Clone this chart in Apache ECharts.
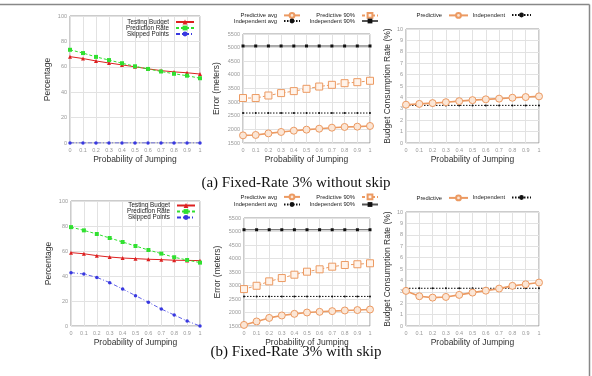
<!DOCTYPE html>
<html><head><meta charset="utf-8">
<script src="https://cdn.jsdelivr.net/npm/echarts@6/dist/echarts.min.js"></script>
<style>html,body{margin:0;padding:0;background:#fff}#c{width:592px;height:376px}</style>
</head><body><div id="c"></div>
<script>
const xCats = ['0','0.1','0.2','0.3','0.4','0.5','0.6','0.7','0.8','0.9','1'];
// (a) without skip
const aTestingBudget = [68, 66.5, 64.6, 63, 61.5, 60, 58.4, 57, 56, 55.3, 54.3];
const aPredictionRate = [73.4, 70.8, 67.8, 65.3, 62.8, 60.4, 58.3, 56.3, 54.5, 53, 51];
const aSkippedPoints = [0,0,0,0,0,0,0,0,0,0,0];
const aPredAvg = [1780, 1795, 1853, 1905, 1952, 1990, 2025, 2062, 2088, 2100, 2125];
const aPred90 = [3150, 3150, 3243, 3331, 3404, 3488, 3572, 3635, 3695, 3732, 3783];
const aIndAvg = [2600,2600,2600,2600,2600,2600,2600,2600,2600,2600,2600];
const aInd90 = [5060,5060,5060,5060,5060,5060,5060,5060,5060,5060,5060];
const aBudgetPred = [3.36, 3.43, 3.5, 3.58, 3.67, 3.76, 3.83, 3.89, 3.97, 4.03, 4.09];
const aBudgetInd = [3.3,3.3,3.3,3.3,3.3,3.3,3.3,3.3,3.3,3.3,3.3];
// (b) with skip
const bTestingBudget = [58.7, 57.8, 56.3, 55.2, 54.4, 53.9, 53.4, 53.1, 52.6, 52.5, 52.3];
const bPredictionRate = [79.1, 76.5, 73.6, 70.4, 67.2, 64, 60.8, 57.9, 55, 52.8, 50.7];
const bSkippedPoints = [42.7, 41.6, 38.9, 34.7, 29.6, 24.3, 19, 13.6, 8.8, 4, 0];
const bPredAvg = [1540, 1668, 1800, 1890, 1950, 2000, 2025, 2050, 2075, 2090, 2110];
const bPred90 = [2867, 2990, 3153, 3276, 3400, 3511, 3600, 3697, 3760, 3787, 3823];
const bIndAvg = [2595,2595,2595,2595,2595,2595,2595,2595,2595,2595,2595];
const bInd90 = [5065,5065,5065,5065,5065,5065,5065,5065,5065,5065,5065];
const bBudgetPred = [3.08, 2.61, 2.49, 2.55, 2.73, 2.93, 3.1, 3.28, 3.52, 3.66, 3.81];
const bBudgetInd = [3.31,3.31,3.31,3.31,3.31,3.31,3.31,3.31,3.31,3.31,3.31];

const pctTicks = {min:0, max:100, interval:20};
const errTicks = {min:1500, max:5500, interval:500};
const bcrTicks = {min:0, max:10, interval:1};

const FONT = 'Liberation Sans, Arial, sans-serif';
const RED = '#dd2020', GREEN = '#30e030', BLUE = '#3838e0', ORANGE = '#ec9a62', BLACK = '#111';

const grids = [
  {left:70, top:16, width:130, height:127},
  {left:243, top:34, width:127, height:109},
  {left:406, top:29, width:133, height:114},
  {left:71, top:201, width:129, height:125},
  {left:244, top:218, width:126, height:108},
  {left:406, top:212, width:133, height:114}
].map(g => Object.assign({show:true, borderColor:'#999', borderWidth:1, backgroundColor:'#fff'}, g));

const xAxes = grids.map((g,i) => ({
  type:'category', gridIndex:i, data:xCats, boundaryGap:false,
  name:'Probability of Jumping', nameLocation:'middle', nameGap:12,
  nameTextStyle:{fontFamily:FONT, fontSize:8.5, color:'#333'},
  axisLine:{show:false}, axisTick:{show:false},
  axisLabel:{interval:0, fontFamily:FONT, fontSize:5.5, color:'#999', margin:4},
  splitLine:{show:true, interval:0, lineStyle:{color:'#e2e2e2', width:1}}
}));

function yAx(i, ticks, name, gap){
  return Object.assign({
    type:'value', gridIndex:i, name:name, nameLocation:'middle', nameGap:gap,
    nameTextStyle:{fontFamily:FONT, fontSize:8.5, color:'#333'},
    axisLine:{show:false}, axisTick:{show:false},
    axisLabel:{fontFamily:FONT, fontSize:5.5, color:'#999', margin:3, formatter:v => String(v)},
    splitLine:{show:true, lineStyle:{color:'#e2e2e2', width:1}}
  }, ticks);
}
const yAxes = [
  yAx(0, pctTicks, 'Percentage', 18),
  yAx(1, errTicks, 'Error (meters)', 22),
  yAx(2, bcrTicks, 'Budget Consumption Rate (%)', 14),
  yAx(3, pctTicks, 'Percentage', 18),
  yAx(4, errTicks, 'Error (meters)', 22),
  yAx(5, bcrTicks, 'Budget Consumption Rate (%)', 14)
];

function s(name, data, gi, style){
  return Object.assign({type:'line', name:name, data:data, xAxisIndex:gi, yAxisIndex:gi,
    animation:false, silent:true}, style);
}
const stTB = {symbol:'triangle', symbolSize:4, itemStyle:{color:RED}, lineStyle:{color:RED, width:1}};
const stPR = {symbol:'rect', symbolSize:4, itemStyle:{color:GREEN}, lineStyle:{color:GREEN, width:1, type:[3,2]}};
const stSP = {symbol:'circle', symbolSize:3.5, itemStyle:{color:BLUE}, lineStyle:{color:BLUE, width:0.8, type:[4,2,1,2]}};
const stPA = {symbol:'circle', symbolSize:7, itemStyle:{color:'#fbe6d6', borderColor:ORANGE, borderWidth:1}, lineStyle:{color:ORANGE, width:1.6}};
const stP9 = {symbol:'rect', symbolSize:7, itemStyle:{color:'#fff3ea', borderColor:ORANGE, borderWidth:1}, lineStyle:{color:ORANGE, width:1, type:[3,2]}};
const stIA = {symbol:'circle', symbolSize:2, itemStyle:{color:BLACK}, lineStyle:{color:BLACK, width:1, type:[1.5,1.5]}};
const stI9 = {symbol:'rect', symbolSize:3, itemStyle:{color:BLACK}, lineStyle:{color:'#555', width:1}};

const series = [
  s('Testing Budget', aTestingBudget, 0, stTB),
  s('Prediction Rate', aPredictionRate, 0, stPR),
  s('Skipped Points', aSkippedPoints, 0, stSP),
  s('Predictive avg', aPredAvg, 1, stPA),
  s('Predictive 90%', aPred90, 1, stP9),
  s('Independent avg', aIndAvg, 1, stIA),
  s('Independent 90%', aInd90, 1, stI9),
  s('Independent', aBudgetInd, 2, stIA),
  s('Predictive', aBudgetPred, 2, stPA),
  s('Testing Budget', bTestingBudget, 3, stTB),
  s('Prediction Rate', bPredictionRate, 3, stPR),
  s('Skipped Points', bSkippedPoints, 3, stSP),
  s('Predictive avg', bPredAvg, 4, stPA),
  s('Predictive 90%', bPred90, 4, stP9),
  s('Independent avg', bIndAvg, 4, stIA),
  s('Independent 90%', bInd90, 4, stI9),
  s('Independent', bBudgetInd, 5, stIA),
  s('Predictive', bBudgetPred, 5, stPA)
];

function lg(name, rightEdge, cy, fs, iw){
  const ih = 6;
  return {data:[name], right:592-rightEdge, top:cy-ih/2, align:'right', orient:'horizontal',
    itemWidth:iw, itemHeight:ih, itemGap:2, padding:0, selectedMode:false,
    textStyle:{fontFamily:FONT, fontSize:fs, color:'#222', padding:[0,2,0,0]}};
}
const legends = [
  lg('Testing Budget', 195, 22, 6.3, 18),
  lg('Prediction Rate', 195, 28, 6.3, 18),
  lg('Skipped Points', 195, 34, 6.3, 18),
  lg('Predictive avg', 301, 15, 5.8, 16),
  lg('Independent avg', 301, 21, 5.8, 16),
  lg('Predictive 90%', 379, 15, 5.8, 16),
  lg('Independent 90%', 379, 21, 5.8, 16),
  lg('Predictive', 469, 15, 5.8, 19),
  lg('Independent', 532, 15, 5.8, 19),
  lg('Testing Budget', 196, 205.5, 6.3, 18),
  lg('Prediction Rate', 196, 211.5, 6.3, 18),
  lg('Skipped Points', 196, 217.5, 6.3, 18),
  lg('Predictive avg', 301, 196.5, 5.8, 16),
  lg('Independent avg', 301, 204.5, 5.8, 16),
  lg('Predictive 90%', 379, 196.5, 5.8, 16),
  lg('Independent 90%', 379, 204.5, 5.8, 16),
  lg('Predictive', 469, 197.5, 5.8, 19),
  lg('Independent', 532, 197.5, 5.8, 19)
];

const chart = echarts.init(document.getElementById('c'), null, {renderer:'canvas'});
chart.setOption({
  backgroundColor:'#fff',
  animation:false,
  grid:grids, xAxis:xAxes, yAxis:yAxes, legend:legends, series:series,
  graphic:[
    {type:'line', shape:{x1:0, y1:4.5, x2:589.5, y2:4.5}, style:{stroke:'#888', lineWidth:1.5}},
    {type:'line', shape:{x1:589.5, y1:4.5, x2:589.5, y2:376}, style:{stroke:'#888', lineWidth:1.5}},
    {type:'text', left:'center', top:176, style:{text:'(a) Fixed-Rate 3% without skip', font:'15px "Liberation Serif", "Times New Roman", serif', fill:'#111'}},
    {type:'text', left:'center', top:345, style:{text:'(b) Fixed-Rate 3% with skip', font:'15px "Liberation Serif", "Times New Roman", serif', fill:'#111'}}
  ]
});
</script></body></html>
